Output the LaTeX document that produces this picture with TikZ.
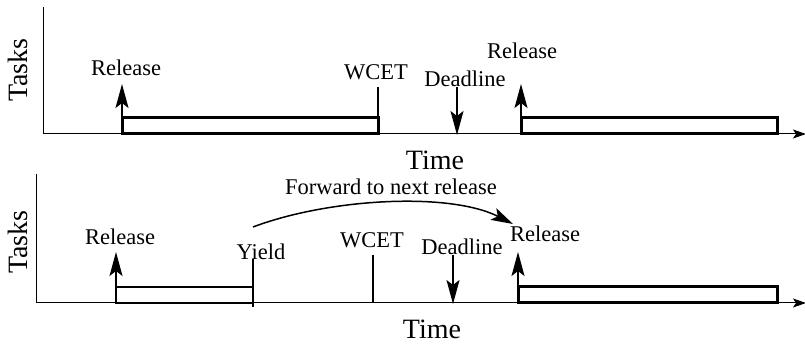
\documentclass[tikz,border=0pt]{standalone}
\usepackage{fontspec}
\setmainfont{Liberation Serif}
\usetikzlibrary{arrows.meta}
\begin{document}
\begin{tikzpicture}[x=1pt,y=-1pt,
  axis/.style={line width=1pt},
  axisarrow/.style={line width=1pt,-{Stealth[length=13pt,width=9pt,inset=3pt]}},
  job/.style={draw,line width=3pt},
  jobthin/.style={draw,line width=2pt},
  relarrow/.style={line width=1.6pt,-{Stealth[length=24pt,width=13pt,inset=5pt]}},
  tickline/.style={line width=1.2pt},
  lbl/.style={font=\fontsize{22.5}{25}\selectfont,inner sep=0pt,anchor=base},
  big/.style={font=\fontsize{28}{30}\selectfont,inner sep=0pt}]
\useasboundingbox (0,0) rectangle (805,344);
% ---------- top panel ----------
\coordinate (ta0) at (43,7);
\coordinate (to) at (43,134);
\coordinate (tend) at (806,134);
\draw[axis] (ta0) -- (to);
\draw[axisarrow] (to) -- (tend);
\node[big,rotate=90] (ttasks) at (18,70) {Tasks};
\node[big,anchor=base] (ttime) at (435,170) {Time};
\draw[job] (122,118) rectangle (378,134);
\draw[job] (521,118) rectangle (777,134);
\coordinate (tr1b) at (122,132);
\coordinate (tr1t) at (122,84);
\draw[relarrow] (tr1b) -- (tr1t);
\node[lbl] (trel1) at (126,76) {Release};
\coordinate (twb) at (378,117);
\coordinate (twt) at (378,87);
\draw[tickline] (twb) -- (twt);
\node[lbl] (twcet) at (376,80) {WCET};
\coordinate (tdt) at (457,87);
\coordinate (tdb) at (457,135);
\draw[relarrow] (tdt) -- (tdb);
\node[lbl] (tdead) at (465,87) {Deadline};
\coordinate (tr2b) at (521,132);
\coordinate (tr2t) at (521,84);
\draw[relarrow] (tr2b) -- (tr2t);
\node[lbl] (trel2) at (522,59) {Release};
% ---------- bottom panel ----------
\coordinate (ba0) at (36,174);
\coordinate (bo) at (36,303);
\coordinate (bend) at (806,303);
\draw[axis] (ba0) -- (bo);
\draw[axisarrow] (bo) -- (bend);
\node[big,rotate=90] (btasks) at (18,242) {Tasks};
\node[big,anchor=base] (btime) at (432,338) {Time};
\draw[jobthin] (116,287) rectangle (253,303);
\draw[job] (518,287) rectangle (777,303);
\coordinate (br1b) at (116,301);
\coordinate (br1t) at (116,252);
\draw[relarrow] (br1b) -- (br1t);
\node[lbl] (brel1) at (120,245) {Release};
\coordinate (byt) at (253,259);
\coordinate (byb) at (253,307);
\draw[tickline] (byt) -- (byb);
\node[lbl] (byield) at (261,260) {Yield};
\coordinate (bwt) at (373,255);
\coordinate (bwb) at (373,303);
\draw[tickline] (bwt) -- (bwb);
\node[lbl] (bwcet) at (372,248) {WCET};
\coordinate (bdt) at (453,255);
\coordinate (bdb) at (453,304);
\draw[relarrow] (bdt) -- (bdb);
\node[lbl] (bdead) at (462,255) {Deadline};
\coordinate (br2b) at (518,301);
\coordinate (br2t) at (518,252);
\draw[relarrow] (br2b) -- (br2t);
\node[lbl] (brel2) at (545,242) {Release};
\coordinate (fs) at (253,227);
\coordinate (fe) at (513,224);
\draw[line width=1.5pt,-{Stealth[length=22pt,width=13pt,inset=5pt]}] (fs) .. controls (330,198) and (450,192) .. (fe);
\node[lbl] (fwd) at (391,195) {Forward to next release};
\end{tikzpicture}
\end{document}
